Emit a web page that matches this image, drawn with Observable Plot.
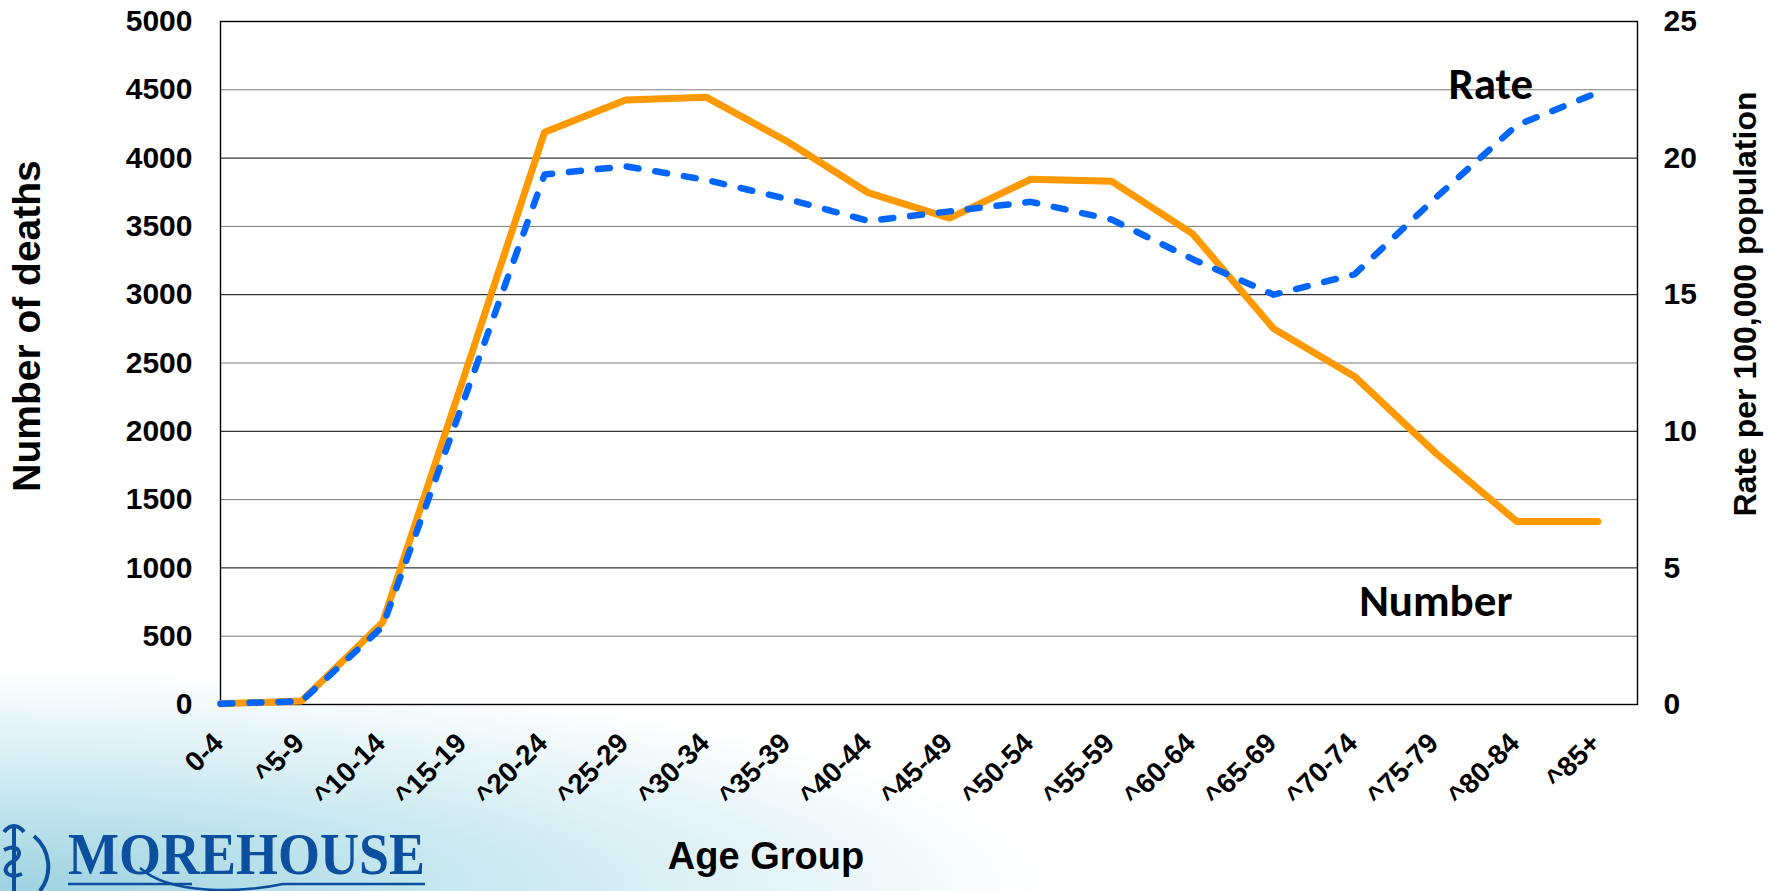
<!DOCTYPE html>
<html>
<head>
<meta charset="utf-8">
<script src="https://cdn.jsdelivr.net/npm/d3@7"></script>
<script src="https://cdn.jsdelivr.net/npm/@observablehq/plot@0.6"></script>
<style>
  html, body { margin: 0; padding: 0; }
  body { width: 1773px; height: 891px; overflow: hidden; background: #fff; }
  #wrap {
    position: relative; width: 1773px; height: 891px;
    background:
      radial-gradient(ellipse 1050px 220px at 0% 100%, #9dd2e0 0%, #c4e6ee 40%, rgba(255,255,255,0) 100%),
      #ffffff;
  }
  #chart { position: absolute; left: 0; top: 0; }
  #logo { position: absolute; left: 0; top: 800px; }
</style>
</head>
<body>
<div id="wrap">
  <div id="chart"></div>
  <svg id="logo" width="470" height="91" viewBox="0 800 470 91">
    <g fill="none" stroke="#0b4f9e" stroke-width="4">
      <path d="M 34 836 A 40 40 0 0 1 40 891"/>
      <path d="M 14 828 L 14 891"/>
      <path d="M 4 850 C 20 842, 24 856, 12 862 C 0 868, 6 880, 22 874"/>
      <path d="M 4 832 C 10 824, 18 824, 24 832"/>
    </g>
    <text x="68" y="874" font-family="'Liberation Serif', 'DejaVu Serif', serif" font-size="60" font-weight="bold" fill="#0b4f9e"
          textLength="357" lengthAdjust="spacingAndGlyphs">MOREHOUSE</text>
    <g stroke="#0b4f9e" stroke-width="2.5" fill="none">
      <line x1="68" y1="884" x2="192" y2="884"/>
      <line x1="283" y1="884" x2="425" y2="884"/>
      <path d="M 140 868 C 170 895, 240 893, 283 884"/>
    </g>
  </svg>
</div>
<script>
// ---- data ----
const ageGroups = ["0-4","^5-9","^10-14","^15-19","^20-24","^25-29","^30-34","^35-39","^40-44",
                   "^45-49","^50-54","^55-59","^60-64","^65-69","^70-74","^75-79","^80-84","^85+"];
const deaths = [5, 25, 600, 2390, 4190, 4425, 4445, 4120, 3745, 3560, 3845, 3830, 3445, 2750, 2400, 1840, 1340, 1340];
const rates  = [0.03, 0.12, 2.85, 11.1, 19.4, 19.7, 19.2, 18.5, 17.7, 18.05, 18.4, 17.75, 16.3, 15.0, 15.75, 18.55, 21.2, 22.4];
const leftTicks = [0, 500, 1000, 1500, 2000, 2500, 3000, 3500, 4000, 4500, 5000];
const rightTicks = [0, 5, 10, 15, 20, 25];
const gridMajor = [1000, 2000, 3000, 4000];
const gridMinor = [500, 1500, 2500, 3500, 4500];
const RATE_FACTOR = 5000 / 25; // right axis 0–25 maps onto left axis 0–5000

const rows = ageGroups.map((g, i) => ({i, group: g, deaths: deaths[i], rate: rates[i]}));
const last = [rows[rows.length - 1]];

const sans = "'Liberation Sans', Arial, Helvetica, sans-serif";
const calibriLike = "Carlito, Lato, 'Liberation Sans Narrow', sans-serif";

const chart = Plot.plot({
  width: 1773,
  height: 891,
  marginLeft: 220,
  marginRight: 136,
  marginTop: 21,
  marginBottom: 187,
  x: {type: "linear", domain: [0, 17.49], axis: null},
  y: {domain: [0, 5000], axis: null},
  style: {background: "transparent", fontFamily: sans, fontWeight: "bold", color: "#000", overflow: "visible"},
  marks: [
    Plot.frame({fill: "white", stroke: "none"}),
    Plot.ruleY(gridMinor, {stroke: "#7a7a7a", strokeWidth: 1}),
    Plot.ruleY(gridMajor, {stroke: "#000", strokeWidth: 1}),
    Plot.frame({stroke: "#000", strokeWidth: 1.4}),
    Plot.axisY({ticks: leftTicks, tickFormat: d => String(d), tickSize: 0, tickPadding: 28,
                fontSize: 30, fontWeight: "bold", label: null}),
    Plot.axisY({anchor: "right", ticks: rightTicks.map(t => t * RATE_FACTOR), tickFormat: d => String(d / RATE_FACTOR),
                tickSize: 0, tickPadding: 26, fontSize: 30, fontWeight: "bold", label: null}),
    // x tick labels, rotated 45°
    Plot.text(rows, {x: "i", y: () => 0, text: "group", rotate: -45, textAnchor: "end", lineAnchor: "middle",
                     dx: -2, dy: 34, fontSize: 28, fontWeight: "bold", fill: "#000"}),
    Plot.line(rows, {x: "i", y: "deaths", stroke: "#FF9900", strokeWidth: 7, strokeLinejoin: "miter"}),
    Plot.line(rows, {x: "i", y: d => d.rate * RATE_FACTOR, stroke: "#0066FF", strokeWidth: 6.5,
                     strokeDasharray: "12,17", strokeLinecap: "round"}),
    Plot.text(last, {x: "i", y: d => d.rate * RATE_FACTOR, text: () => "Rate", dx: -107, dy: -8,
                     fontSize: 45, fontFamily: calibriLike, fontWeight: "bold", textAnchor: "middle", fill: "#000"}),
    Plot.text(last, {x: "i", y: "deaths", text: () => "Number", dx: -162, dy: 80,
                     fontSize: 45, fontFamily: calibriLike, fontWeight: "bold", textAnchor: "middle", fill: "#000"}),
    Plot.text(["Number of deaths"], {text: d => d, frameAnchor: "left", rotate: -90, dx: -193, dy: -37,
                     fontSize: 39, fontWeight: "bold", textAnchor: "middle", fill: "#000"}),
    Plot.text(["Rate per 100,000 population"], {text: d => d, frameAnchor: "right", rotate: -90, dx: 108, dy: -59,
                     fontSize: 32, fontWeight: "bold", textAnchor: "middle", fill: "#000"}),
    Plot.text(["Age Group"], {text: d => d, frameAnchor: "bottom", dx: -163, dy: 164,
                     fontSize: 38, fontWeight: "bold", textAnchor: "middle", fill: "#000"})
  ]
});
document.getElementById("chart").appendChild(chart);
</script>
</body>
</html>
